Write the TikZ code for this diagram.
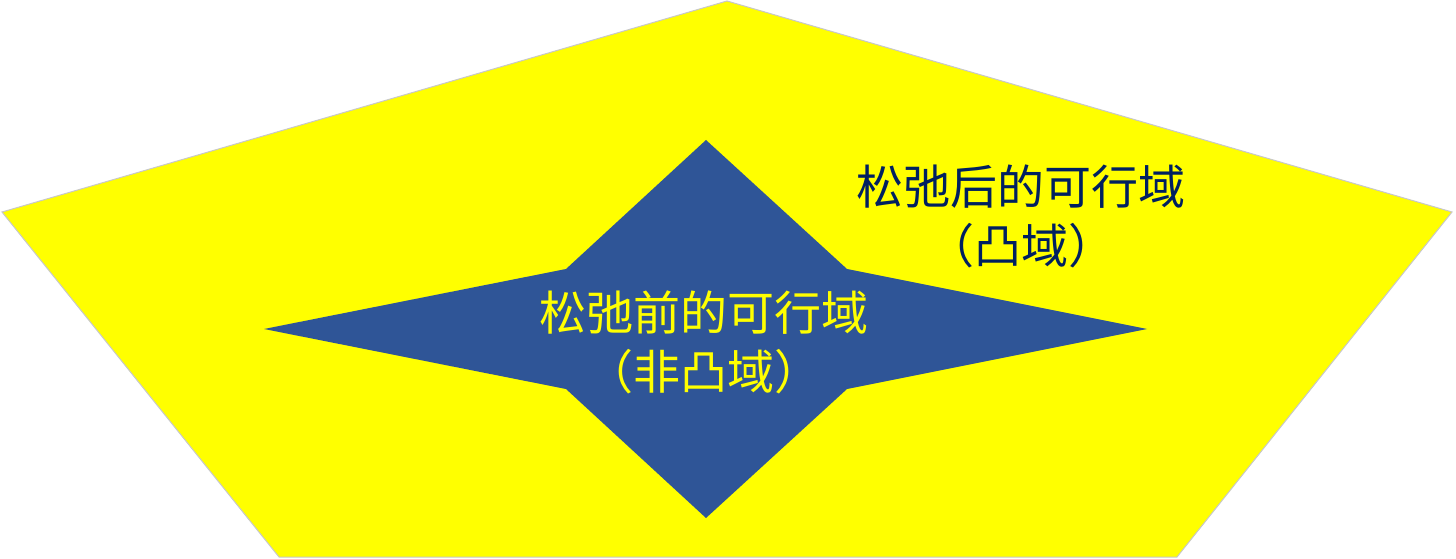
\documentclass[tikz,border=0pt]{standalone}
\usepackage{fontspec}
\newfontfamily\cjk{Noto Sans CJK SC}
\usetikzlibrary{positioning}
\definecolor{RlxYellow}{RGB}{255,255,0}
\definecolor{RlxBlue}{RGB}{47,85,151}
\definecolor{RlxNavy}{RGB}{0,32,96}
\definecolor{RlxEdge}{RGB}{200,200,200}
\tikzset{
  rlx/hull/.style={
    fill=RlxYellow,
    draw=RlxEdge,
    line width=1pt,
    line join=miter
  },
  rlx/star/.style={
    fill=RlxBlue,
    draw=none
  },
  rlx/label/.style={
    align=center,
    inner sep=0pt,
    font=\cjk\fontsize{47}{59}\selectfont
  }
}

\begin{document}
\begin{tikzpicture}[x=1pt,y=-1pt]
  \useasboundingbox (0,0) rectangle (1456,559);
  % relaxed region (convex)
  \draw[rlx/hull] (727,1) -- (1452,212) -- (1177,557) -- (279,557) -- (2,212) -- cycle;
  % original region (non-convex)
  \fill[rlx/star] (706,140) -- (847,269) -- (1147,329) -- (847,389) -- (706,518)
    -- (566,389) -- (264,329) -- (566,269) -- cycle;
  \node[rlx/label,text=RlxYellow] (before) at (704,342) {松弛前的可行域\\（非凸域）};
  \node[rlx/label,text=RlxNavy] (after) at (1021,216) {松弛后的可行域\\（凸域）};
\end{tikzpicture}
\end{document}
